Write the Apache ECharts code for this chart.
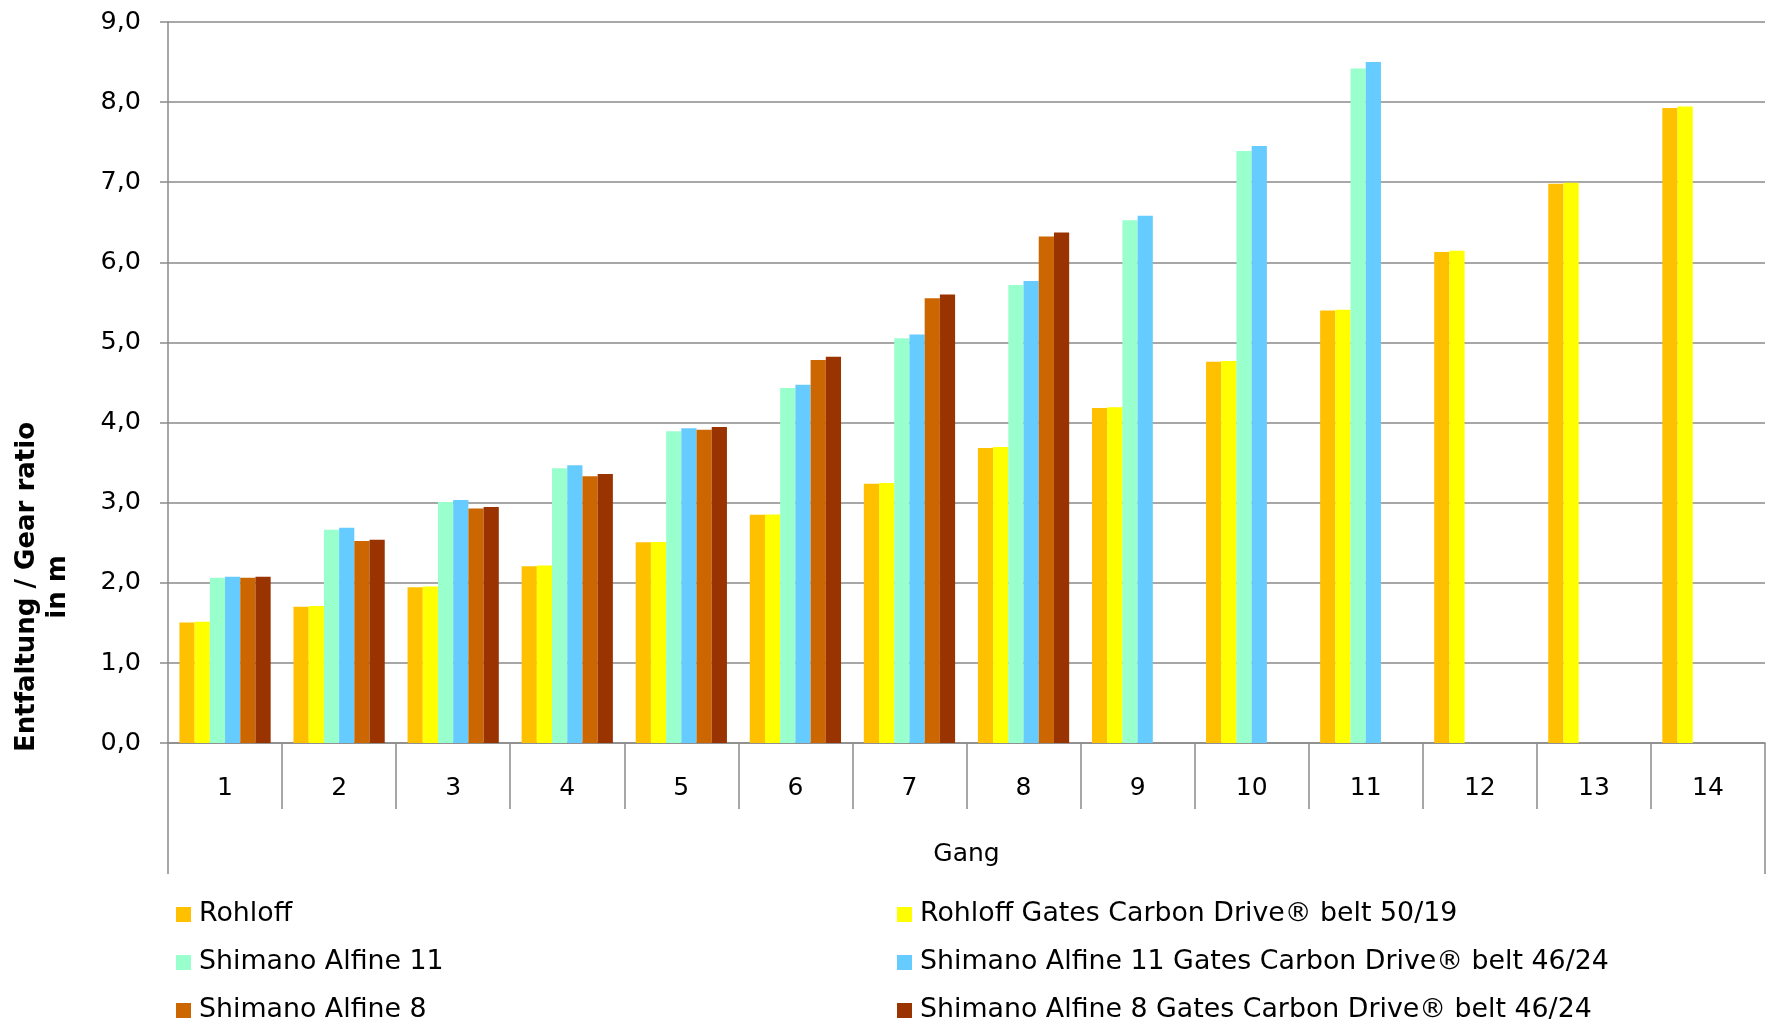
<!DOCTYPE html>
<html>
<head>
<meta charset="utf-8">
<script src="https://cdn.jsdelivr.net/npm/echarts@6/dist/echarts.min.js"></script>
<style>
html,body{margin:0;padding:0;background:#fff;}
#chart{width:1769px;height:1021px;}
</style>
</head>
<body>
<div id="chart"></div>
<script>
const categories = ['1','2','3','4','5','6','7','8','9','10','11','12','13','14'];
const yTicks = [0,1,2,3,4,5,6,7,8,9];
const seriesNames = [
  'Rohloff',
  'Rohloff Gates Carbon Drive® belt 50/19',
  'Shimano Alfine 11',
  'Shimano Alfine 11 Gates Carbon Drive® belt 46/24',
  'Shimano Alfine 8',
  'Shimano Alfine 8 Gates Carbon Drive® belt 46/24'
];
const rohloff      = [1.505,1.700,1.945,2.207,2.506,2.849,3.235,3.683,4.181,4.758,5.400,6.128,6.982,7.927];
const rohloffGates = [1.513,1.709,1.953,2.215,2.510,2.852,3.244,3.696,4.190,4.767,5.407,6.146,6.993,7.944];
const alfine11     = [2.062,2.661,3.009,3.429,3.890,4.430,5.053,5.718,6.525,7.391,8.419,null,null,null];
const alfine11Gates= [2.075,2.686,3.034,3.466,3.928,4.472,5.099,5.768,6.580,7.453,8.500,null,null,null];
const alfine8      = [2.062,2.520,2.926,3.329,3.911,4.781,5.551,6.322,null,null,null,null,null,null];
const alfine8Gates = [2.075,2.536,2.947,3.358,3.944,4.822,5.598,6.373,null,null,null,null,null,null];
const colors = ['#FFC000','#FFFF00','#99FFCC','#66CCFF','#CC6600','#993300'];
const yTitle = 'Entfaltung / Gear ratio\nin m';
const xTitle = 'Gang';

const dataSets = [rohloff, rohloffGates, alfine11, alfine11Gates, alfine8, alfine8Gates];
const FONT = '"DejaVu Sans", Verdana, sans-serif';
const GRAY = '#8a8a8a';

const chart = echarts.init(document.getElementById('chart'), null, {renderer:'canvas'});
const legendCommon = {
  orient: 'horizontal',
  icon: 'rect',
  itemWidth: 15,
  itemHeight: 15,
  padding: 0,
  textStyle: {fontFamily: FONT, fontSize: 26.8, color: '#000', padding:[0,0,0,3]},
  selectedMode: false
};
const legendCols = [176, 897];
const legendRows = [901, 949, 997];
const legends = seriesNames.map((n, i) => Object.assign({
  left: legendCols[i % 2],
  top: legendRows[Math.floor(i / 2)],
  data: [n]
}, legendCommon));

chart.setOption({
  animation: false,
  backgroundColor: '#fff',
  color: colors,
  grid: {left: 168, right: 4, top: 22, bottom: 278, containLabel: false},
  legend: legends,
  xAxis: [
    {
      type: 'category',
      data: categories,
      position: 'bottom',
      boundaryGap: true,
      name: xTitle,
      nameLocation: 'middle',
      nameGap: 99,
      nameTextStyle: {fontFamily: FONT, fontSize: 25, color: '#000'},
      axisLine: {show: true, lineStyle: {color: GRAY, width: 1.5}},
      axisTick: {show: true, length: 66, interval: 0, lineStyle: {color: GRAY, width: 1.5}},
      axisLabel: {fontFamily: FONT, fontSize: 25, color: '#000', margin: 33, interval: 0}
    },
    {
      type: 'category',
      data: [''],
      position: 'bottom',
      boundaryGap: true,
      axisLine: {show: false},
      axisTick: {show: true, length: 131, lineStyle: {color: GRAY, width: 1.5}},
      axisLabel: {show: false},
      splitLine: {show: false}
    }
  ],
  yAxis: {
    type: 'value',
    min: 0,
    max: 9,
    interval: 1,
    axisLine: {show: true, lineStyle: {color: GRAY, width: 1.5}},
    axisTick: {show: true, length: 8, lineStyle: {color: GRAY, width: 1.5}},
    axisLabel: {
      fontFamily: FONT, fontSize: 25.5, color: '#000', margin: 27,
      formatter: v => v.toFixed(1).replace('.', ',')
    },
    splitLine: {show: true, lineStyle: {color: GRAY, width: 1.5}}
  },
  graphic: [{
    type: 'text',
    x: 43,
    y: 587,
    rotation: Math.PI / 2,
    style: {
      text: yTitle,
      fontFamily: FONT,
      fontSize: 26,
      fontWeight: 'bold',
      lineHeight: 31,
      fill: '#000',
      align: 'center',
      verticalAlign: 'middle'
    }
  }],
  series: seriesNames.map((n, i) => ({
    name: n,
    type: 'bar',
    xAxisIndex: 0,
    data: dataSets[i],
    barGap: '0%',
    barCategoryGap: '20%',
    itemStyle: {color: colors[i]}
  }))
});
</script>
</body>
</html>
